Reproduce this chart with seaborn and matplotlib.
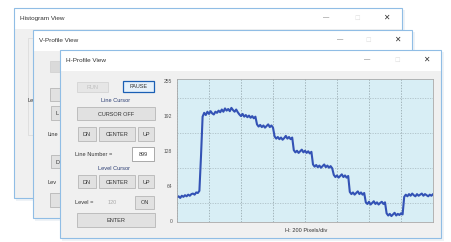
import numpy as np
import pandas as pd
import matplotlib
matplotlib.use("Agg")
import matplotlib.pyplot as plt
from matplotlib.patches import Rectangle
from matplotlib.ticker import MultipleLocator, FixedLocator
import seaborn as sns

# H-profile grey levels, one sample every 10 pixels along the line
profile = [43, 45, 42, 46, 44, 47, 45, 48, 46, 49, 50, 48, 52, 51, 55,
           118,
           190, 197, 193, 199, 195, 200, 196, 194, 199, 197, 201,
           198, 203, 199, 205, 201, 204, 200, 206, 202, 199, 203, 198,
           194, 191, 195, 190, 193, 189, 192, 188, 191, 187, 190,
           176, 172, 175, 171, 174, 170, 173, 176, 171, 174, 170,
           154, 150, 153, 149, 152, 148, 151, 155, 150, 153, 149, 152,
           129, 125, 128, 124, 127, 130, 125, 128, 124, 127, 123, 126,
           103, 99, 102, 98, 101, 97, 100, 103, 98, 101, 97, 100, 96,
           84, 80, 83, 79, 82, 85, 80, 83, 79, 82,
           53, 49, 52, 48, 51, 54, 49, 52, 48, 51,
           34, 31, 35, 30, 33, 36, 31, 34, 30, 33, 35, 31, 34,
           14, 10, 13, 9, 12, 15, 10, 13, 11, 14, 12,
           44, 48, 45, 49, 46, 50, 47, 45, 49, 46, 48, 50, 46, 49, 47, 45, 48, 46, 49]
step = 10
y_ticks = [0, 64, 128, 192, 255]
pixels_per_div = 200
levels_per_div = 32
x_caption = "H: 200 Pixels/div"
line_number = "899"
level_value = "120"

df = pd.DataFrame({"pixel": np.arange(len(profile)) * step, "level": profile})

sns.set_theme(style="white")
plt.rcParams["font.family"] = ["Liberation Sans", "DejaVu Sans"]

W, H = 451, 242
fig = plt.figure(figsize=(W / 100, H / 100), dpi=100)
fig.patch.set_facecolor("white")

# pixel-space canvas for the window chrome
ui = fig.add_axes([0, 0, 1, 1], zorder=0)
ui.set_xlim(0, W)
ui.set_ylim(H, 0)
ui.axis("off")


def box(x0, y0, x1, y1, fc, ec="none", lw=0.5, z=1):
    ui.add_patch(Rectangle((x0, y0), x1 - x0, y1 - y0, fc=fc, ec=ec, lw=lw, zorder=z))


def txt(x, y, s, z, size=4.3, color="#333333", ha="left"):
    ui.text(x, y, s, fontsize=size, color=color, ha=ha, va="center", zorder=z)


def button(x0, y0, x1, y1, label, z, color="#333333", fc="#e1e1e1", ec="#adadad", lw=0.5):
    box(x0, y0, x1, y1, fc, ec, lw, z)
    if label:
        txt((x0 + x1) / 2, (y0 + y1) / 2 + 0.5, label, z + 0.05, size=4.0, color=color, ha="center")


def window(x0, y0, x1, y1, title, ctrl, z):
    box(x0 + 2, y0 + 2, x1 + 3, y1 + 3, "#eef2f6", z=z - 0.2)  # faint shadow
    box(x0, y0, x1, y1, "#f0f0f0", z=z)
    box(x0, y0, x1, y0 + 21, "white", z=z + 0.01)
    box(x0, y0, x1, y1, "none", ec="#90bde5", lw=0.8, z=z + 0.6)
    txt(x0 + 6, y0 + 10.5, title, z + 0.05, size=4.6)
    cx1, cx2, cx3 = ctrl
    txt(cx1, y0 + 10, "—", z + 0.05, size=4.5, color="#555555", ha="center")
    txt(cx2, y0 + 10, "☐", z + 0.05, size=4.5, color="#dddddd", ha="center")
    txt(cx3, y0 + 10, "✕", z + 0.05, size=5.5, color="#333333", ha="center")


# Histogram View (back) - only a strip of its body shows
window(14, 8, 402, 198, "Histogram View", (326, 357, 386), z=1)
box(28, 38, 40, 135, "none", "#dcdcdc", 0.6, z=1.1)
txt(28, 101, "Le", 1.15, size=4.1)

# V-Profile View (middle) - left edge of its control panel shows
window(33, 30, 412, 218, "V-Profile View", (340, 368, 397), z=3)
button(50, 61, 81, 72, None, 3.1, fc="#dadada", ec="#cfcfcf")
button(50, 88, 128, 101, None, 3.1)
button(51, 106, 69, 120, None, 3.1)
txt(55, 113.5, "L", 3.15, size=4.0)
txt(48, 134, "Line", 3.15, size=4.1)
button(51, 155, 69, 168, None, 3.1)
txt(55, 162, "D", 3.15, size=4.0)
txt(48, 183, "Lev", 3.15, size=4.1)
button(50, 193, 128, 207, None, 3.1)

# H-Profile View (front) with its full control panel
window(60, 50, 441, 238, "H-Profile View", (367, 397, 426), z=5)
z = 5.1
button(77, 82, 108, 92, "RUN", z, color="#c0c0c0", fc="#e6e6e6", ec="#d0d0d0")
button(123, 81, 154, 92, "PAUSE", z, fc="#e5f1fb", ec="#1a5fb4", lw=0.9)
txt(116, 101, "Line Cursor", z + 0.05, size=4.1, color="#2b3d73", ha="center")
button(77, 107, 155, 120, "CURSOR OFF", z)
button(78, 127, 96, 141, "DN", z)
button(99, 127, 135, 141, "CENTER", z)
button(138, 127, 154, 141, "UP", z)
txt(75, 154, "Line Number =", z + 0.05, size=4.1)
box(132, 147, 154, 161, "white", "#8a8a8a", 0.5, z)
txt(143, 154, line_number, z + 0.05, size=4.0, ha="center")
txt(114, 168, "Level Cursor", z + 0.05, size=4.1, color="#2b3d73", ha="center")
button(78, 175, 96, 188, "DN", z)
button(99, 175, 135, 188, "CENTER", z)
button(138, 175, 154, 188, "UP", z)
txt(75, 203, "Level =", z + 0.05, size=4.1)
txt(112, 202, level_value, z + 0.05, size=4.0, color="#aaaaaa", ha="center")
button(135, 196, 154, 209, "ON", z)
button(77, 213, 155, 227, "ENTER", z)
txt(306, 230, x_caption, z + 0.05, size=4.1, ha="center")

# profile plot
ax = fig.add_axes([177 / W, 1 - 222 / H, 256 / W, 143 / H], zorder=10)
ax.set_facecolor("#d8eef5")
sns.lineplot(data=df, x="pixel", y="level", ax=ax, color="#3352b5", lw=1.5)
ax.set_xlim(0, 1600)
ax.set_ylim(-1.8, 258.6)
ax.set_yticks(y_ticks)
ax.xaxis.set_major_locator(MultipleLocator(pixels_per_div))
ax.yaxis.set_minor_locator(FixedLocator(list(range(levels_per_div, 255, levels_per_div))))
ax.set_xticklabels([])
ax.set_xlabel("")
ax.set_ylabel("")
ax.tick_params(axis="both", which="both", length=0)
ax.tick_params(axis="y", pad=3.5, labelsize=3.6, labelcolor="#555555")
ax.grid(False)
ax.xaxis.grid(True, which="major", color="#8d9ea4", ls=(0, (2, 2)), lw=0.5)
ax.yaxis.grid(True, which="minor", color="#9fb0b6", ls=(0, (2, 2)), lw=0.45)
for s in ax.spines.values():
    s.set_color("#a9a9a9")
    s.set_linewidth(0.6)

fig.savefig("out.png", dpi=100)
